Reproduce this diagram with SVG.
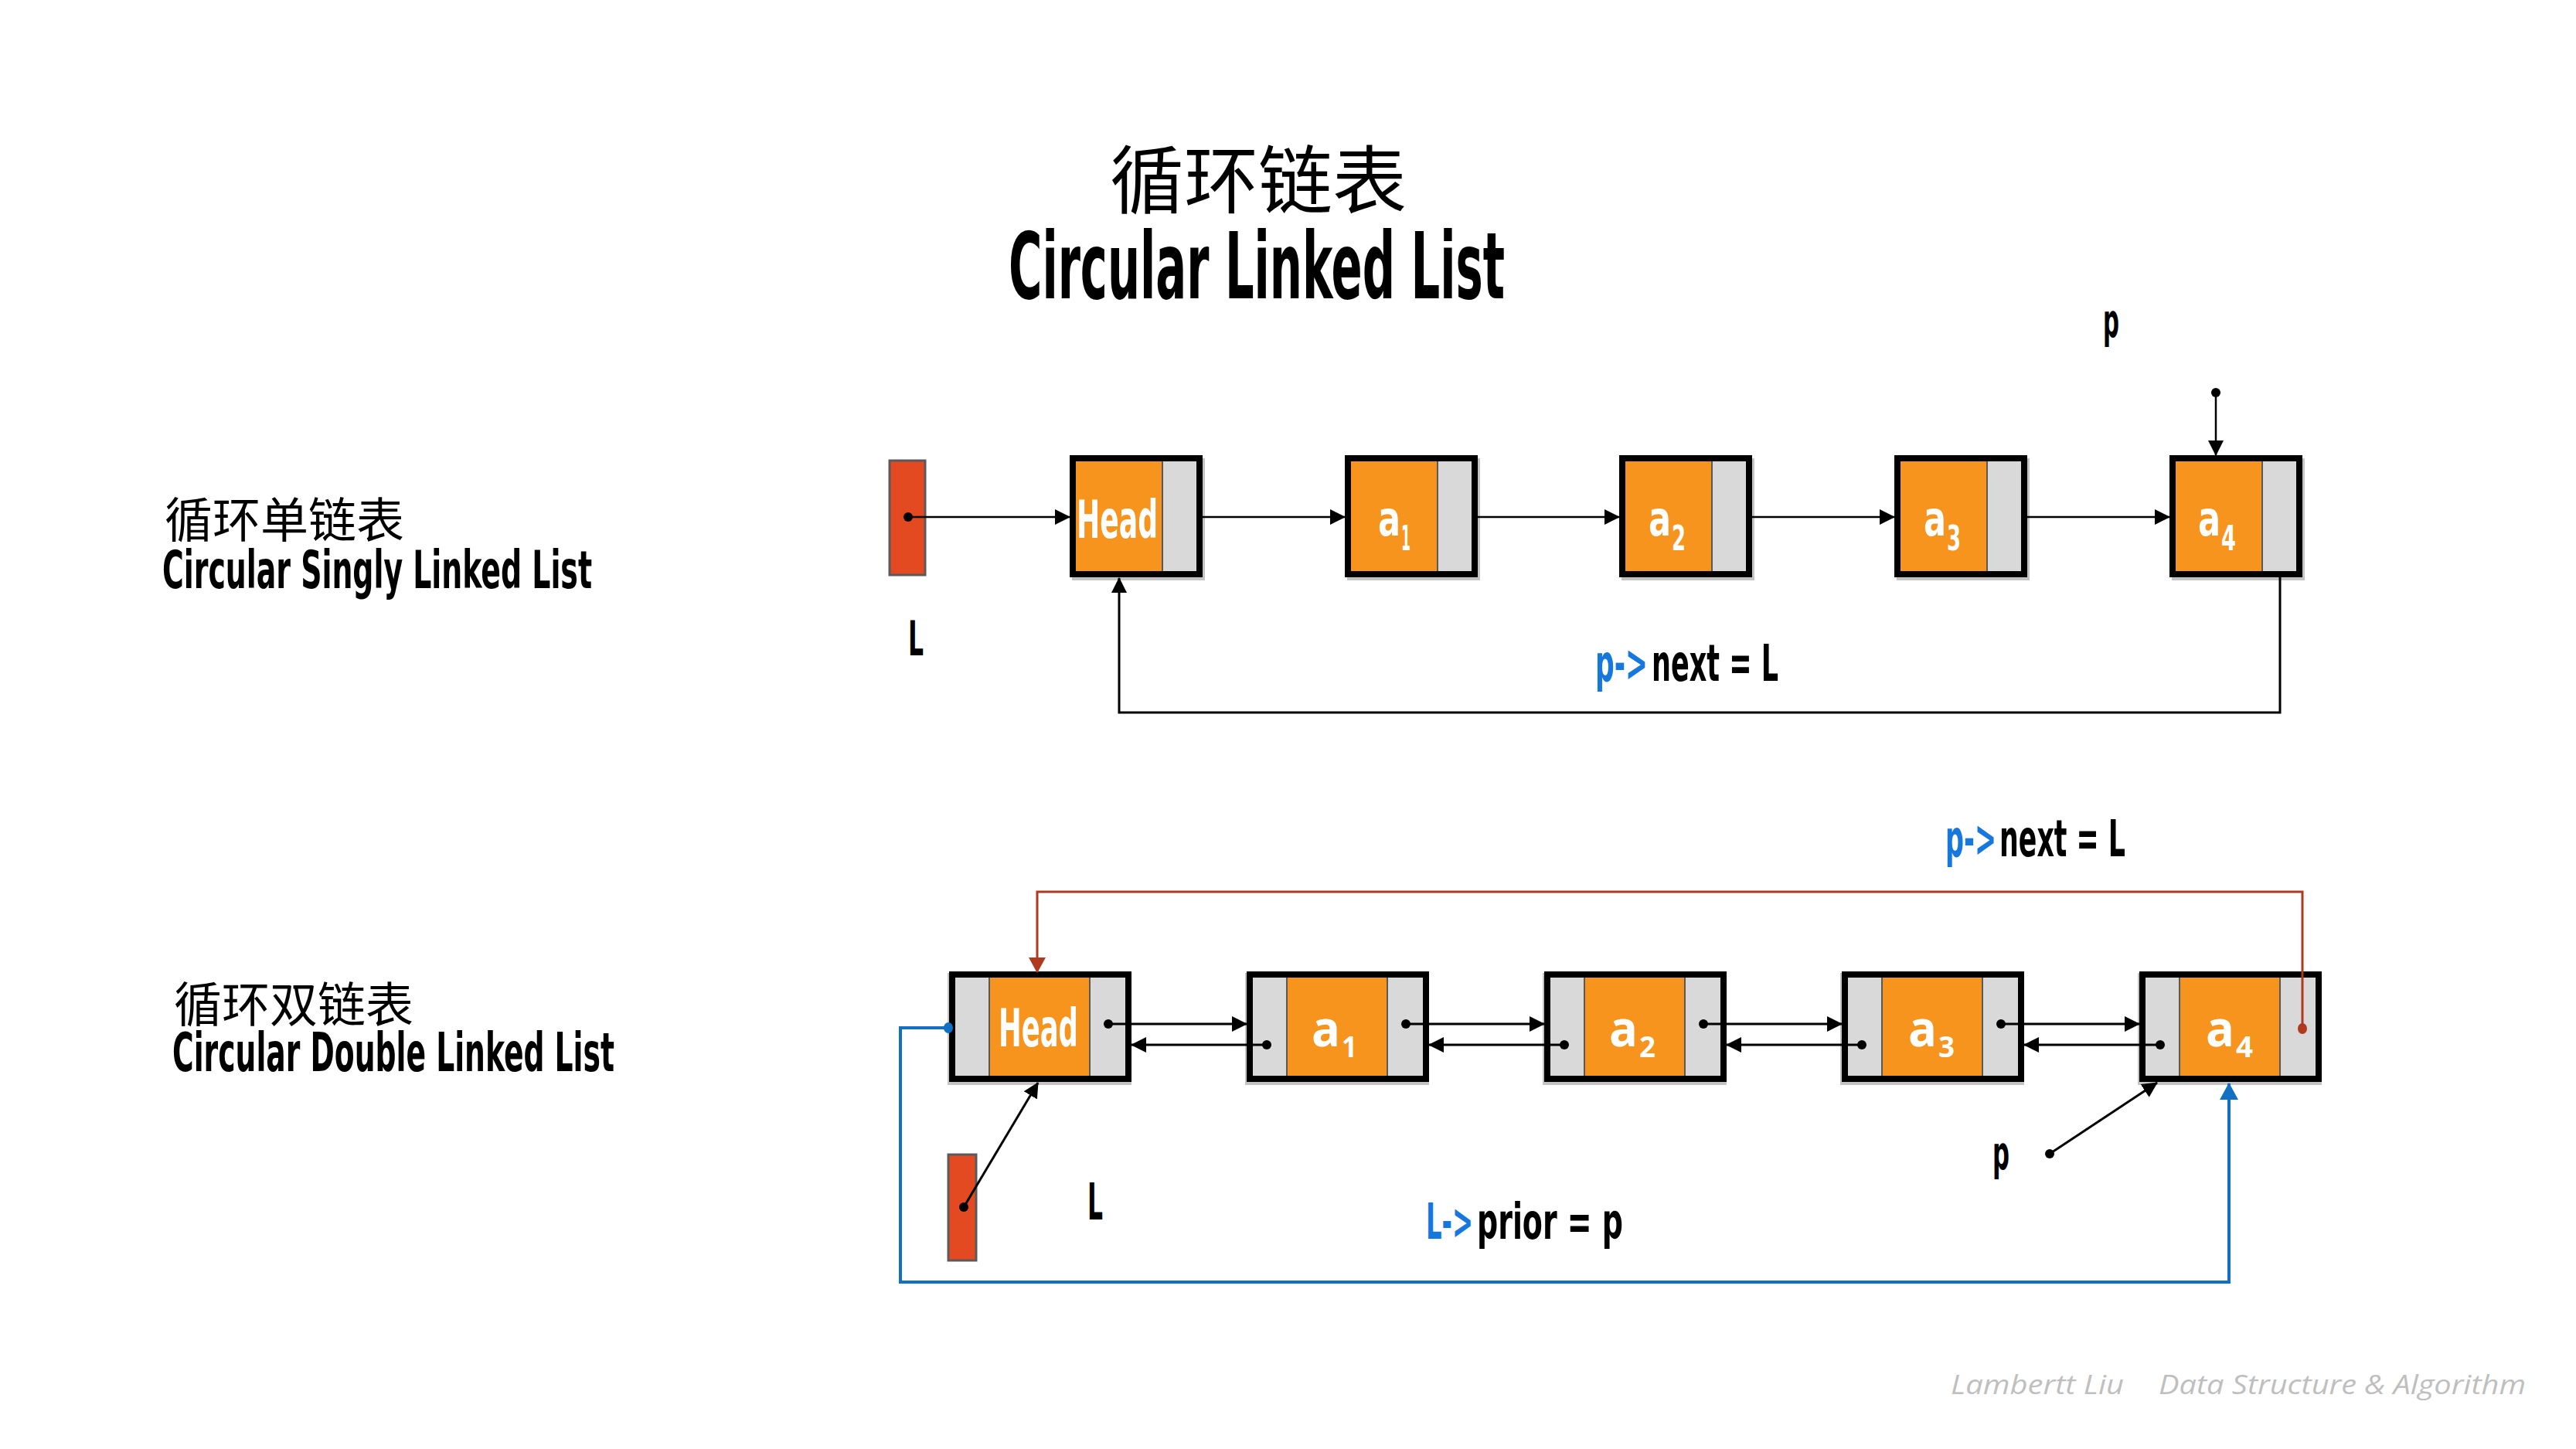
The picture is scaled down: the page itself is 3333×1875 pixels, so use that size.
<svg xmlns="http://www.w3.org/2000/svg" width="3333" height="1875" viewBox="0 0 3333 1875">
<style>
.cn{font-family:"Noto Sans CJK SC","Noto Sans CJK JP",sans-serif;fill:#000}
.cd{font-family:"Liberation Sans Narrow","DejaVu Sans Condensed","Liberation Sans",sans-serif;font-weight:bold;fill:#000}
.wt{fill:#fff}
.bl{fill:#1677DD}
.os{font-family:"Open Sans","Liberation Sans",sans-serif;font-weight:bold;fill:#fff}
.ft{font-family:"Open Sans","Liberation Sans",sans-serif;font-style:italic;fill:#BFBFBF}
.org{fill:#F7941D}
.gry{fill:#D9D9D9}
.div{stroke:#595959;stroke-width:2}
.brd{fill:none;stroke:#000;stroke-width:8}
.shd{fill:#C4C4C4}
.lbox{fill:#E44A22;stroke:#5A5A5A;stroke-width:3}
.k{stroke:#000;stroke-width:2.5;fill:none}
.kt{stroke:#000;stroke-width:3;fill:none}
.rd{stroke:#B03A20;stroke-width:3;fill:none}
.bu{stroke:#1170C2;stroke-width:4;fill:none}
</style>
<defs>
<marker id="ak" markerUnits="userSpaceOnUse" markerWidth="20" markerHeight="20" refX="19" refY="10" orient="auto"><path d="M0,0 L20,10 L0,20 z" fill="#000"/></marker>
<marker id="ar" markerUnits="userSpaceOnUse" markerWidth="20" markerHeight="22" refX="19" refY="11" orient="auto"><path d="M0,0 L20,11 L0,22 z" fill="#B03A20"/></marker>
<marker id="ab" markerUnits="userSpaceOnUse" markerWidth="22" markerHeight="24" refX="21" refY="12" orient="auto"><path d="M0,0 L22,12 L0,24 z" fill="#1170C2"/></marker>
</defs>
<rect width="3333" height="1875" fill="#fff"/>

<g id="title">
<text class="cn" x="1628" y="268" font-size="96" text-anchor="middle">循环链表</text>
<text class="cd" x="1305" y="386" font-size="119" textLength="642" lengthAdjust="spacingAndGlyphs">Circular Linked List</text>
</g>

<g id="section-singly">
<text class="cn" x="213" y="696" font-size="62">循环单链表</text>
<text class="cd" x="210" y="761" font-size="68" textLength="556" lengthAdjust="spacingAndGlyphs">Circular Singly Linked List</text>
</g>
<g id="section-double">
<text class="cn" x="225" y="1323" font-size="62">循环双链表</text>
<text class="cd" x="223" y="1386" font-size="70" textLength="572" lengthAdjust="spacingAndGlyphs">Circular Double Linked List</text>
</g>

<!-- singly list -->
<g id="s-L">
<rect class="lbox" x="1151" y="596" width="46" height="148"/>
<text class="cd" x="1175" y="848" font-size="62" textLength="20" lengthAdjust="spacingAndGlyphs">L</text>
</g>
<g id="s-head">
<rect class="shd" x="1387" y="593" width="172" height="158"/>
<rect class="org" x="1392" y="597" width="112" height="146"/>
<rect class="gry" x="1504" y="597" width="44" height="146"/>
<line class="div" x1="1504" y1="597" x2="1504" y2="743"/>
<rect class="brd" x="1388" y="593" width="164" height="150"/>
<text class="cd wt" x="1393" y="696" font-size="68" textLength="105" lengthAdjust="spacingAndGlyphs">Head</text>
</g>
<g id="s-a1">
<rect class="shd" x="1743" y="593" width="172" height="158"/>
<rect class="org" x="1748" y="597" width="112" height="146"/>
<rect class="gry" x="1860" y="597" width="44" height="146"/>
<line class="div" x1="1860" y1="597" x2="1860" y2="743"/>
<rect class="brd" x="1744" y="593" width="164" height="150"/>
<text class="cd wt" x="1783" y="693" font-size="62" textLength="29" lengthAdjust="spacingAndGlyphs">a</text>
<text class="cd wt" x="1813" y="712" font-size="44" font-weight="normal" textLength="12" lengthAdjust="spacingAndGlyphs">1</text>
</g>
<g id="s-a2">
<rect class="shd" x="2098" y="593" width="172" height="158"/>
<rect class="org" x="2103" y="597" width="112" height="146"/>
<rect class="gry" x="2215" y="597" width="44" height="146"/>
<line class="div" x1="2215" y1="597" x2="2215" y2="743"/>
<rect class="brd" x="2099" y="593" width="164" height="150"/>
<text class="cd wt" x="2133" y="693" font-size="62" textLength="29" lengthAdjust="spacingAndGlyphs">a</text>
<text class="cd wt" x="2163" y="712" font-size="44" font-weight="normal" textLength="18" lengthAdjust="spacingAndGlyphs">2</text>
</g>
<g id="s-a3">
<rect class="shd" x="2454" y="593" width="172" height="158"/>
<rect class="org" x="2459" y="597" width="112" height="146"/>
<rect class="gry" x="2571" y="597" width="44" height="146"/>
<line class="div" x1="2571" y1="597" x2="2571" y2="743"/>
<rect class="brd" x="2455" y="593" width="164" height="150"/>
<text class="cd wt" x="2489" y="693" font-size="62" textLength="29" lengthAdjust="spacingAndGlyphs">a</text>
<text class="cd wt" x="2519" y="712" font-size="44" font-weight="normal" textLength="18" lengthAdjust="spacingAndGlyphs">3</text>
</g>
<g id="s-a4">
<rect class="shd" x="2810" y="593" width="172" height="158"/>
<rect class="org" x="2815" y="597" width="112" height="146"/>
<rect class="gry" x="2927" y="597" width="44" height="146"/>
<line class="div" x1="2927" y1="597" x2="2927" y2="743"/>
<rect class="brd" x="2811" y="593" width="164" height="150"/>
<text class="cd wt" x="2844" y="693" font-size="62" textLength="29" lengthAdjust="spacingAndGlyphs">a</text>
<text class="cd wt" x="2874" y="712" font-size="44" font-weight="normal" textLength="19" lengthAdjust="spacingAndGlyphs">4</text>
</g>
<g id="s-p">
<text class="cd" x="2721" y="436" font-size="60" textLength="21" lengthAdjust="spacingAndGlyphs">p</text>
</g>
<g id="s-label">
<text class="cd bl" x="2064" y="881" font-size="66" textLength="68" lengthAdjust="spacingAndGlyphs">p-&gt;</text>
<text class="cd" x="2137" y="881" font-size="66" textLength="164" lengthAdjust="spacingAndGlyphs">next = L</text>
</g>

<!-- doubly list -->
<g id="d-L">
<rect class="lbox" x="1227" y="1494" width="36" height="137"/>
<text class="cd" x="1407" y="1578" font-size="66" textLength="20" lengthAdjust="spacingAndGlyphs">L</text>
</g>
<g id="d-head">
<rect class="shd" x="1226" y="1259" width="238" height="145"/>
<rect class="gry" x="1236" y="1265" width="44" height="127"/>
<rect class="org" x="1280" y="1265" width="130" height="127"/>
<rect class="gry" x="1410" y="1265" width="46" height="127"/>
<line class="div" x1="1280" y1="1265" x2="1280" y2="1392"/>
<line class="div" x1="1410" y1="1265" x2="1410" y2="1392"/>
<rect class="brd" x="1232" y="1261" width="228" height="135"/>
<text class="cd wt" x="1292" y="1354" font-size="67" textLength="103" lengthAdjust="spacingAndGlyphs">Head</text>
</g>
<g id="d-a1">
<rect class="shd" x="1611" y="1259" width="238" height="145"/>
<rect class="gry" x="1621" y="1265" width="44" height="127"/>
<rect class="org" x="1665" y="1265" width="130" height="127"/>
<rect class="gry" x="1795" y="1265" width="46" height="127"/>
<line class="div" x1="1665" y1="1265" x2="1665" y2="1392"/>
<line class="div" x1="1795" y1="1265" x2="1795" y2="1392"/>
<rect class="brd" x="1617" y="1261" width="228" height="135"/>
<text class="os" x="1697" y="1354" font-size="64" textLength="37" lengthAdjust="spacingAndGlyphs">a</text>
<text class="os" x="1736" y="1368" font-size="38" textLength="20" lengthAdjust="spacingAndGlyphs">1</text>
</g>
<g id="d-a2">
<rect class="shd" x="1996" y="1259" width="238" height="145"/>
<rect class="gry" x="2006" y="1265" width="44" height="127"/>
<rect class="org" x="2050" y="1265" width="130" height="127"/>
<rect class="gry" x="2180" y="1265" width="46" height="127"/>
<line class="div" x1="2050" y1="1265" x2="2050" y2="1392"/>
<line class="div" x1="2180" y1="1265" x2="2180" y2="1392"/>
<rect class="brd" x="2002" y="1261" width="228" height="135"/>
<text class="os" x="2082" y="1354" font-size="64" textLength="37" lengthAdjust="spacingAndGlyphs">a</text>
<text class="os" x="2121" y="1368" font-size="38" textLength="21" lengthAdjust="spacingAndGlyphs">2</text>
</g>
<g id="d-a3">
<rect class="shd" x="2381" y="1259" width="238" height="145"/>
<rect class="gry" x="2391" y="1265" width="44" height="127"/>
<rect class="org" x="2435" y="1265" width="130" height="127"/>
<rect class="gry" x="2565" y="1265" width="46" height="127"/>
<line class="div" x1="2435" y1="1265" x2="2435" y2="1392"/>
<line class="div" x1="2565" y1="1265" x2="2565" y2="1392"/>
<rect class="brd" x="2387" y="1261" width="228" height="135"/>
<text class="os" x="2469" y="1354" font-size="64" textLength="37" lengthAdjust="spacingAndGlyphs">a</text>
<text class="os" x="2508" y="1368" font-size="38" textLength="21" lengthAdjust="spacingAndGlyphs">3</text>
</g>
<g id="d-a4">
<rect class="shd" x="2766" y="1259" width="238" height="145"/>
<rect class="gry" x="2776" y="1265" width="44" height="127"/>
<rect class="org" x="2820" y="1265" width="130" height="127"/>
<rect class="gry" x="2950" y="1265" width="46" height="127"/>
<line class="div" x1="2820" y1="1265" x2="2820" y2="1392"/>
<line class="div" x1="2950" y1="1265" x2="2950" y2="1392"/>
<rect class="brd" x="2772" y="1261" width="228" height="135"/>
<text class="os" x="2854" y="1354" font-size="64" textLength="37" lengthAdjust="spacingAndGlyphs">a</text>
<text class="os" x="2893" y="1368" font-size="38" textLength="22" lengthAdjust="spacingAndGlyphs">4</text>
</g>
<g id="d-p">
<text class="cd" x="2578" y="1513" font-size="60" textLength="22" lengthAdjust="spacingAndGlyphs">p</text>
</g>
<g id="d-label-next">
<text class="cd bl" x="2517" y="1108" font-size="66" textLength="66" lengthAdjust="spacingAndGlyphs">p-&gt;</text>
<text class="cd" x="2587" y="1108" font-size="66" textLength="163" lengthAdjust="spacingAndGlyphs">next = L</text>
</g>
<g id="d-label-prior">
<text class="cd bl" x="1845" y="1603" font-size="64" textLength="61" lengthAdjust="spacingAndGlyphs">L-&gt;</text>
<text class="cd" x="1911" y="1603" font-size="64" textLength="189" lengthAdjust="spacingAndGlyphs">prior = p</text>
</g>

<g id="connectors">
<!-- singly -->
<circle cx="1175" cy="669" r="6" fill="#000"/>
<line class="k" x1="1175" y1="669" x2="1384" y2="669" marker-end="url(#ak)"/>
<line class="k" x1="1556" y1="669" x2="1740" y2="669" marker-end="url(#ak)"/>
<line class="k" x1="1912" y1="669" x2="2095" y2="669" marker-end="url(#ak)"/>
<line class="k" x1="2267" y1="669" x2="2451" y2="669" marker-end="url(#ak)"/>
<line class="k" x1="2623" y1="669" x2="2807" y2="669" marker-end="url(#ak)"/>
<circle cx="2867" cy="508" r="6" fill="#000"/>
<line class="k" x1="2867" y1="508" x2="2867" y2="589" marker-end="url(#ak)"/>
<polyline class="kt" points="2950,747 2950,922 1448,922 1448,748" marker-end="url(#ak)"/>

<!-- doubly next/prior -->
<circle cx="1434" cy="1325" r="6" fill="#000"/>
<line class="kt" x1="1434" y1="1325" x2="1613" y2="1325" marker-end="url(#ak)"/>
<circle cx="1639" cy="1352" r="6" fill="#000"/>
<line class="kt" x1="1639" y1="1352" x2="1464" y2="1352" marker-end="url(#ak)"/>

<circle cx="1819" cy="1325" r="6" fill="#000"/>
<line class="kt" x1="1819" y1="1325" x2="1998" y2="1325" marker-end="url(#ak)"/>
<circle cx="2024" cy="1352" r="6" fill="#000"/>
<line class="kt" x1="2024" y1="1352" x2="1849" y2="1352" marker-end="url(#ak)"/>

<circle cx="2204" cy="1325" r="6" fill="#000"/>
<line class="kt" x1="2204" y1="1325" x2="2383" y2="1325" marker-end="url(#ak)"/>
<circle cx="2409" cy="1352" r="6" fill="#000"/>
<line class="kt" x1="2409" y1="1352" x2="2234" y2="1352" marker-end="url(#ak)"/>

<circle cx="2589" cy="1325" r="6" fill="#000"/>
<line class="kt" x1="2589" y1="1325" x2="2768" y2="1325" marker-end="url(#ak)"/>
<circle cx="2795" cy="1352" r="6" fill="#000"/>
<line class="kt" x1="2795" y1="1352" x2="2619" y2="1352" marker-end="url(#ak)"/>

<!-- red p->next = L -->
<ellipse cx="2979" cy="1331" rx="6" ry="7" fill="#B03A20"/>
<polyline class="rd" points="2979,1331 2979,1154 1342,1154 1342,1258" marker-end="url(#ar)"/>

<!-- blue L->prior = p -->
<ellipse cx="1227" cy="1330" rx="6" ry="7" fill="#1170C2"/>
<polyline class="bu" points="1227,1330 1165,1330 1165,1659 2884,1659 2884,1402" marker-end="url(#ab)"/>

<!-- L pointer doubly -->
<circle cx="1247" cy="1562" r="6" fill="#000"/>
<line class="kt" x1="1247" y1="1562" x2="1343" y2="1401" marker-end="url(#ak)"/>
<!-- p pointer doubly -->
<circle cx="2652" cy="1493" r="6" fill="#000"/>
<line class="kt" x1="2652" y1="1493" x2="2791" y2="1401" marker-end="url(#ak)"/>
</g>

<g id="footer">
<text class="ft" x="2524" y="1804" font-size="35" textLength="224" lengthAdjust="spacingAndGlyphs">Lambertt Liu</text>
<text class="ft" x="2793" y="1804" font-size="35" textLength="475" lengthAdjust="spacingAndGlyphs">Data Structure &amp; Algorithm</text>
</g>
</svg>
